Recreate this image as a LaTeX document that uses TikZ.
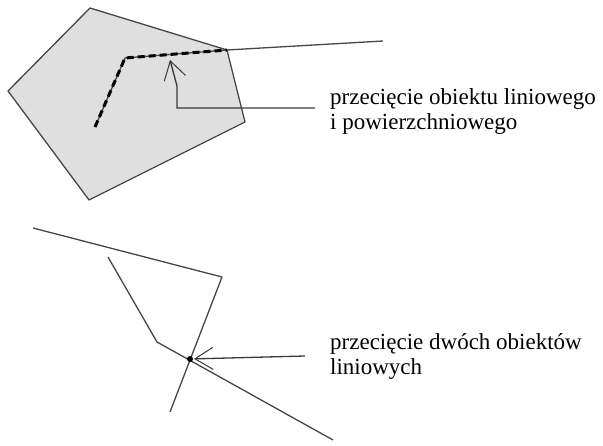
\documentclass[tikz,border=0pt]{standalone}
\usepackage{fontspec}
\setmainfont{Liberation Serif}
\usetikzlibrary{arrows.meta}

\begin{document}
\begin{tikzpicture}[x=1pt,y=-1pt,
    obj/.style={gray!55!black, line width=1.3pt, line join=round},
    route/.style={black, line width=3pt, dash pattern=on 7pt off 4pt},
    pointer/.style={gray!45!black, line width=1.3pt, -{Straight Barb[length=18pt,width=22pt,line width=1pt]}},
    caption/.style={anchor=base west, align=left, inner sep=0pt, font=\fontsize{23}{25}\selectfont}]
    \useasboundingbox (0,0) rectangle (603,446);

    % upper example
    \begin{scope}
      \coordinate (p1) at (90,8);
      \coordinate (p2) at (227,50);
      \coordinate (p3) at (245,122);
      \coordinate (p4) at (89,200);
      \coordinate (p5) at (8,91);
      \filldraw[obj, fill=gray!25] (p1) -- (p2) -- (p3) -- (p4) -- (p5) -- cycle;
      \coordinate (r1) at (95,127);
      \coordinate (r2) at (125,58);
      \coordinate (r3) at (383,41);
      \draw[obj] (r1) -- (r2) -- (p2) -- (r3);
      \draw[route] (r1) -- (r2) -- (p2);
      \node[caption] (t1) at (330,130) {przecięcie obiektu liniowego\\i powierzchniowego};
      \coordinate (a1) at (315,108);
      \coordinate (a2) at (177,108);
      \coordinate (a3) at (177,86);
      \coordinate (a4) at (170,60);
      \draw[pointer] (a1) -- (a2) -- (a3) -- (a4);
    \end{scope}

    % lower example
    \begin{scope}
      \coordinate (l1) at (33,228);
      \coordinate (l2) at (222,277);
      \coordinate (l3) at (170,412);
      \coordinate (m1) at (108,257);
      \coordinate (m2) at (157,342);
      \coordinate (m3) at (333,440);
      \draw[obj] (l1) -- (l2) -- (l3);
      \draw[obj] (m1) -- (m2) -- (m3);
      \coordinate (x) at (190,359);
      \fill[black] (x) circle (3pt);
      \node[caption] (t2) at (330,375) {przecięcie dwóch obiektów\\liniowych};
      \coordinate (a5) at (305,356);
      \draw[pointer, shorten >=4pt] (a5) -- (x);
    \end{scope}
  \end{tikzpicture}
\end{document}
